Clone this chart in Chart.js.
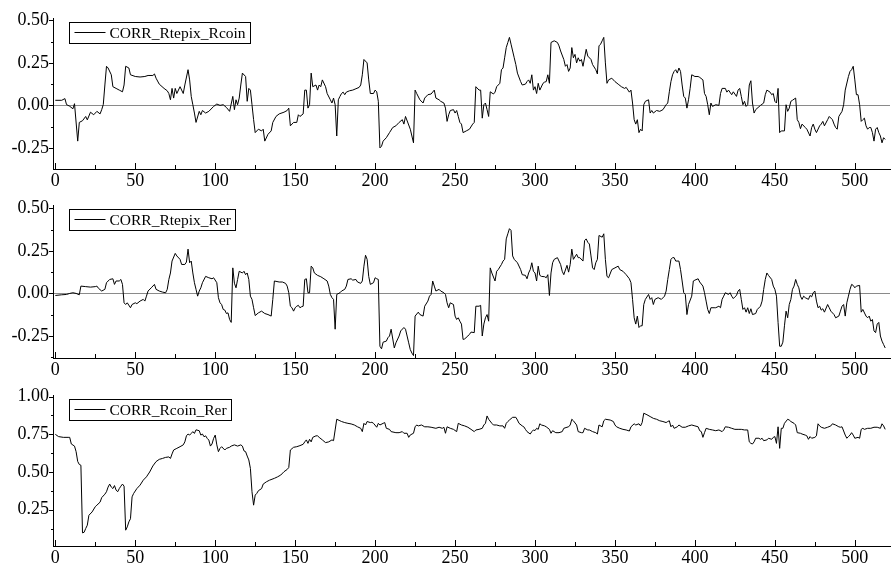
<!DOCTYPE html>
<html lang="en">
<head>
  <meta charset="UTF-8" />
  <title>Rolling correlations</title>
  <script src="https://cdn.jsdelivr.net/npm/chart.js"></script>
  <style>
    body { margin: 0; background: #fff; }
    .wrap { position: relative; width: 891px; height: 564px; overflow: hidden; }
    canvas { position: absolute; left: 0; }
  </style>
</head>
<body>
  <div class="wrap">
    <canvas id="c1" width="891" height="200" style="top:0"></canvas>
    <canvas id="c2" width="891" height="200" style="top:188px"></canvas>
    <canvas id="c3" width="891" height="188" style="top:376px"></canvas>
  </div>

  <script>
    const corrRtepixRcoin = [[0,0.03],[4,0.03],[6,0.04],[7,0.005],[9,-0.005],[11,-0.02],[12,0.01],[14,-0.21],[15,-0.10],[17,-0.09],[19,-0.065],[20,-0.085],[22,-0.04],[24,-0.055],[26,-0.035],[28,-0.05],[29,-0.025],[30,0.005],[31,0.12],[32,0.23],[33,0.22],[35,0.18],[36,0.11],[38,0.10],[40,0.09],[42,0.08],[43,0.12],[44,0.23],[46,0.22],[47,0.18],[50,0.17],[53,0.167],[56,0.17],[58,0.176],[61,0.176],[62,0.185],[63,0.16],[65,0.125],[68,0.10],[70,0.086],[71,0.07],[72,0.033],[73,0.10],[74,0.043],[75,0.10],[76,0.07],[78,0.11],[80,0.07],[81,0.12],[83,0.21],[84,0.15],[85,0.053],[86,0.004],[87,-0.045],[88,-0.10],[90,-0.035],[91,-0.055],[92,-0.03],[94,-0.045],[96,-0.035],[99,-0.006],[101,0.008],[103,0],[105,0.004],[107,-0.012],[109,-0.035],[111,0.053],[112,-0.025],[113,0.033],[114,0.004],[115,0.043],[116,0.12],[117,0.19],[119,0.17],[120,0.024],[121,0.10],[122,0.09],[123,0.004],[124,-0.084],[125,-0.16],[127,-0.14],[129,-0.15],[130,-0.14],[131,-0.21],[133,-0.17],[135,-0.15],[136,-0.10],[138,-0.065],[140,-0.05],[143,-0.04],[145,-0.03],[146,-0.016],[147,-0.12],[149,-0.10],[151,-0.10],[152,-0.055],[153,-0.065],[155,-0.05],[156,0.09],[157,0.09],[158,-0.016],[159,0.004],[160,0.19],[161,0.11],[163,0.12],[164,0.09],[165,0.12],[166,0.11],[167,0.15],[169,0.11],[170,0.07],[172,0.033],[173,0.014],[174,0.043],[175,0.004],[176,-0.18],[177,0.033],[178,0.053],[179,0.07],[180,0.078],[181,0.063],[182,0.078],[184,0.086],[186,0.09],[188,0.098],[190,0.106],[191,0.12],[192,0.18],[193,0.27],[195,0.25],[196,0.15],[197,0.07],[199,0.07],[200,0.09],[201,0.08],[202,0.024],[203,-0.25],[204,-0.24],[205,-0.21],[207,-0.19],[209,-0.16],[211,-0.13],[213,-0.12],[215,-0.10],[217,-0.084],[218,-0.11],[219,-0.065],[222,-0.14],[223,-0.18],[224,-0.22],[225,0.09],[226,0.07],[228,0.033],[230,0.014],[231,0.043],[233,0.063],[235,0.067],[237,0.09],[238,0.043],[240,0.033],[241,0.024],[243,0.014],[244,-0.016],[245,-0.094],[246,-0.055],[247,-0.03],[249,-0.025],[250,-0.045],[251,-0.03],[252,-0.065],[253,-0.10],[254,-0.11],[255,-0.16],[257,-0.15],[259,-0.14],[261,-0.11],[262,-0.10],[263,0.11],[265,0.09],[266,0.09],[267,-0.075],[268,0.004],[269,0.014],[270,-0.025],[271,-0.065],[272,0.08],[274,0.067],[275,0.078],[276,0.11],[278,0.13],[279,0.21],[280,0.22],[281,0.28],[282,0.34],[283,0.37],[284,0.40],[285,0.36],[287,0.28],[288,0.24],[289,0.19],[291,0.14],[292,0.12],[294,0.125],[295,0.14],[296,0.15],[297,0.13],[298,0.18],[299,0.09],[300,0.11],[301,0.07],[302,0.13],[303,0.09],[305,0.13],[306,0.137],[307,0.14],[308,0.18],[309,0.13],[310,0.37],[312,0.38],[314,0.37],[315,0.35],[316,0.32],[318,0.27],[319,0.23],[320,0.24],[321,0.20],[322,0.22],[323,0.34],[324,0.28],[325,0.30],[326,0.25],[327,0.28],[328,0.26],[329,0.27],[330,0.23],[332,0.33],[333,0.29],[335,0.27],[336,0.24],[338,0.21],[339,0.185],[340,0.35],[341,0.36],[342,0.38],[343,0.40],[344,0.25],[345,0.13],[346,0.15],[348,0.16],[350,0.14],[352,0.125],[354,0.11],[356,0.10],[357,0.106],[359,0.078],[360,0.09],[361,0.014],[362,-0.084],[363,-0.11],[364,-0.084],[365,-0.16],[366,-0.14],[367,-0.15],[368,0.004],[369,0.024],[371,0.033],[372,-0.045],[373,-0.03],[374,-0.045],[376,-0.03],[378,-0.035],[380,-0.025],[382,0.004],[383,0.014],[384,0.08],[385,0.14],[386,0.18],[387,0.20],[388,0.21],[389,0.19],[390,0.22],[391,0.20],[392,0.12],[393,0.053],[394,0.043],[395,-0.016],[396,0.033],[397,0.10],[398,0.18],[400,0.17],[402,0.17],[403,0.165],[405,0.15],[406,0.07],[407,0.053],[408,0.004],[409,-0.055],[410,0.014],[411,-0.006],[413,0.004],[415,0],[416,0.07],[417,0.10],[419,0.10],[420,0.078],[421,0.09],[423,0.063],[424,0.08],[426,0.053],[427,0.09],[428,0.10],[429,0.053],[430,0.004],[431,0.024],[432,-0.006],[433,0.004],[434,0.12],[435,0.145],[436,0.014],[437,-0.045],[438,-0.025],[441,0],[443,0.014],[444,0.063],[445,0.09],[447,0.078],[448,0.063],[449,0.07],[450,0.024],[451,0.014],[452,0.10],[453,-0.16],[454,-0.15],[456,-0.15],[457,0.004],[458,-0.035],[459,-0.016],[460,0.024],[461,0.03],[462,0.037],[463,0.043],[464,-0.084],[465,-0.10],[466,-0.137],[467,-0.11],[469,-0.13],[470,-0.14],[472,-0.18],[473,-0.13],[474,-0.11],[475,-0.14],[476,-0.16],[478,-0.12],[479,-0.11],[480,-0.094],[481,-0.12],[483,-0.084],[484,-0.065],[486,-0.084],[487,-0.11],[488,-0.13],[489,-0.14],[490,-0.065],[492,-0.035],[493,0.004],[494,0.09],[496,0.17],[497,0.20],[498,0.21],[499,0.23],[500,0.15],[501,0.063],[502,0.063],[503,0.004],[504,-0.094],[505,-0.084],[506,-0.075],[507,-0.12],[508,-0.14],[509,-0.13],[510,-0.13],[511,-0.16],[512,-0.21],[513,-0.14],[514,-0.13],[515,-0.16],[516,-0.18],[517,-0.22],[518,-0.19],[519,-0.20]];

    const corrRtepixRer = [[0,-0.012],[4,-0.008],[7,-0.006],[9,0],[11,0.004],[13,0],[15,-0.008],[16,0.043],[19,0.04],[22,0.037],[25,0.04],[26,0.043],[27,0.03],[29,0.014],[31,0.024],[32,0.063],[34,0.082],[36,0.086],[37,0.053],[38,0.073],[40,0.073],[41,0.082],[42,0.053],[43,-0.055],[44,-0.065],[45,-0.055],[47,-0.084],[48,-0.065],[50,-0.055],[51,-0.06],[53,-0.045],[55,-0.035],[56,-0.045],[57,-0.016],[58,0.014],[60,0.033],[62,0.053],[63,0.024],[65,0.014],[67,0.008],[69,0.004],[70,0.024],[71,0.082],[72,0.12],[73,0.19],[75,0.235],[76,0.22],[78,0.20],[79,0.17],[81,0.17],[82,0.184],[83,0.26],[84,0.18],[85,0.19],[86,0.12],[87,0.063],[88,0.024],[89,-0.016],[90,0.014],[91,0.033],[92,0.063],[94,0.10],[96,0.092],[98,0.086],[99,0.092],[101,0.063],[102,-0.025],[103,-0.055],[104,-0.065],[105,-0.094],[106,-0.098],[107,-0.118],[108,-0.114],[109,-0.153],[110,-0.17],[111,0.15],[112,0.06],[113,0.033],[114,0.082],[115,0.13],[117,0.12],[118,0.13],[119,0.11],[120,0.12],[121,0.082],[122,-0.016],[123,-0.035],[124,-0.084],[125,-0.13],[127,-0.114],[129,-0.104],[131,-0.118],[133,-0.124],[135,-0.133],[136,-0.035],[137,0.073],[140,0.067],[142,0.067],[144,0.059],[145,0.043],[146,0.004],[147,-0.075],[148,-0.084],[149,-0.104],[150,-0.084],[151,-0.075],[152,-0.07],[153,-0.084],[154,-0.078],[155,-0.075],[156,0.082],[157,0.086],[158,0.004],[159,0.004],[160,0.16],[161,0.15],[162,0.12],[164,0.106],[166,0.098],[168,0.086],[170,0.073],[171,0.043],[172,-0.006],[173,-0.025],[174,-0.035],[175,-0.21],[176,-0.006],[178,0.004],[179,0.014],[181,0.024],[182,0.043],[183,0.082],[185,0.086],[186,0.078],[188,0.082],[189,0.067],[191,0.059],[192,0.073],[193,0.16],[194,0.224],[195,0.20],[196,0.10],[197,0.053],[199,0.063],[200,0.092],[201,0.086],[202,0.082],[203,-0.31],[204,-0.325],[205,-0.286],[207,-0.28],[208,-0.26],[209,-0.25],[210,-0.21],[212,-0.32],[213,-0.29],[215,-0.25],[216,-0.22],[218,-0.20],[219,-0.21],[220,-0.25],[221,-0.29],[222,-0.33],[223,-0.35],[224,-0.365],[225,-0.133],[227,-0.11],[228,-0.124],[230,-0.133],[231,-0.075],[233,-0.045],[234,-0.016],[235,-0.006],[236,0.073],[237,0.043],[238,0.014],[240,0.024],[241,0.014],[243,0.004],[244,-0.006],[245,-0.055],[246,-0.084],[247,-0.055],[249,-0.065],[250,-0.133],[251,-0.153],[252,-0.143],[253,-0.163],[254,-0.18],[255,-0.27],[256,-0.267],[258,-0.25],[259,-0.24],[260,-0.227],[262,-0.23],[263,-0.075],[265,-0.075],[266,-0.07],[267,-0.25],[268,-0.18],[269,-0.143],[270,-0.124],[271,-0.163],[272,0.15],[273,0.12],[275,0.073],[276,0.13],[277,0.14],[279,0.17],[280,0.19],[281,0.20],[282,0.32],[283,0.35],[284,0.38],[285,0.37],[286,0.22],[287,0.20],[289,0.18],[291,0.14],[292,0.11],[294,0.106],[295,0.086],[296,0.12],[297,0.14],[298,0.18],[299,0.13],[300,0.12],[301,0.073],[302,0.16],[303,0.106],[304,0.10],[306,0.098],[307,0.092],[308,0.11],[309,-0.012],[310,0.12],[311,0.18],[312,0.20],[314,0.21],[316,0.17],[317,0.13],[318,0.11],[320,0.165],[321,0.125],[322,0.17],[323,0.26],[324,0.20],[326,0.23],[327,0.21],[328,0.21],[330,0.19],[331,0.31],[332,0.32],[333,0.30],[334,0.29],[335,0.22],[336,0.15],[337,0.14],[338,0.18],[339,0.20],[340,0.34],[342,0.33],[343,0.35],[344,0.20],[345,0.10],[346,0.092],[348,0.14],[350,0.15],[352,0.16],[353,0.14],[355,0.13],[357,0.11],[359,0.086],[360,0.063],[361,-0.035],[362,-0.143],[363,-0.18],[364,-0.133],[365,-0.20],[366,-0.19],[367,-0.19],[368,-0.065],[369,-0.035],[371,-0.006],[372,-0.035],[373,-0.025],[374,-0.065],[375,-0.035],[377,-0.025],[379,-0.035],[381,-0.016],[382,0.014],[383,0.082],[384,0.14],[385,0.20],[386,0.21],[387,0.21],[388,0.19],[390,0.19],[391,0.14],[392,0.073],[393,0.004],[394,-0.006],[395,-0.124],[396,-0.065],[398,-0.016],[399,0.073],[400,0.078],[402,0.086],[403,0.067],[405,0.043],[406,0.004],[407,-0.045],[408,-0.094],[409,-0.118],[410,-0.084],[412,-0.084],[413,-0.084],[415,-0.075],[416,-0.084],[417,-0.035],[418,-0.016],[419,0.004],[421,-0.006],[422,0.004],[423,-0.016],[424,-0.03],[425,-0.02],[426,-0.012],[427,0.014],[428,0.024],[429,-0.035],[430,-0.094],[431,-0.084],[432,-0.11],[433,-0.084],[434,-0.118],[435,-0.09],[436,-0.124],[438,-0.118],[439,-0.094],[441,-0.075],[442,-0.045],[443,0.024],[444,0.082],[445,0.12],[446,0.106],[448,0.082],[449,0.043],[450,0.024],[451,-0.016],[452,-0.17],[453,-0.31],[454,-0.31],[455,-0.286],[456,-0.19],[457,-0.104],[458,-0.143],[459,-0.065],[460,-0.035],[461,0.024],[462,0.043],[463,0.082],[464,0.053],[465,0.033],[466,-0.016],[467,-0.035],[468,-0.016],[469,-0.025],[471,-0.035],[472,-0.012],[473,-0.02],[474,0.004],[475,0.014],[476,-0.045],[477,-0.084],[478,-0.075],[479,-0.098],[480,-0.09],[481,-0.11],[483,-0.065],[484,-0.084],[485,-0.104],[487,-0.124],[488,-0.143],[490,-0.133],[491,-0.104],[492,-0.075],[493,-0.065],[494,-0.133],[495,-0.055],[496,-0.016],[497,0.024],[498,0.053],[499,0.047],[500,0.033],[501,0.043],[503,0.047],[504,-0.11],[505,-0.094],[507,-0.133],[508,-0.143],[509,-0.133],[510,-0.163],[511,-0.153],[512,-0.22],[513,-0.23],[514,-0.18],[515,-0.17],[516,-0.25],[517,-0.28],[518,-0.30],[519,-0.32]];

    const corrRcoinRer = [[0,0.75],[2,0.735],[5,0.73],[8,0.73],[9,0.73],[10,0.686],[12,0.672],[13,0.635],[14,0.57],[15,0.55],[16,0.545],[17,0.096],[18,0.10],[19,0.125],[20,0.147],[21,0.213],[23,0.235],[25,0.27],[26,0.28],[28,0.30],[29,0.33],[31,0.353],[32,0.369],[33,0.40],[34,0.42],[35,0.40],[36,0.39],[37,0.41],[38,0.38],[39,0.369],[40,0.39],[41,0.406],[42,0.42],[43,0.406],[44,0.114],[45,0.136],[46,0.169],[47,0.19],[48,0.335],[49,0.358],[51,0.39],[53,0.413],[55,0.446],[57,0.468],[59,0.50],[61,0.54],[63,0.569],[65,0.584],[67,0.59],[69,0.597],[71,0.60],[72,0.59],[73,0.62],[74,0.646],[76,0.657],[78,0.668],[80,0.68],[81,0.70],[82,0.74],[83,0.752],[84,0.745],[85,0.756],[86,0.768],[87,0.756],[88,0.78],[90,0.774],[91,0.745],[92,0.752],[93,0.734],[94,0.74],[95,0.723],[96,0.712],[97,0.672],[98,0.686],[99,0.723],[100,0.745],[101,0.68],[102,0.635],[103,0.657],[104,0.668],[106,0.646],[107,0.657],[109,0.664],[110,0.672],[112,0.68],[114,0.672],[116,0.68],[117,0.672],[118,0.64],[119,0.635],[120,0.606],[121,0.58],[122,0.524],[123,0.369],[124,0.28],[125,0.347],[126,0.358],[127,0.376],[129,0.39],[130,0.42],[132,0.435],[134,0.446],[137,0.458],[139,0.468],[141,0.48],[143,0.502],[145,0.517],[146,0.53],[147,0.646],[149,0.664],[151,0.668],[153,0.675],[155,0.684],[156,0.70],[157,0.713],[158,0.69],[159,0.717],[160,0.70],[161,0.73],[163,0.74],[164,0.74],[165,0.73],[167,0.713],[169,0.695],[171,0.70],[173,0.713],[174,0.708],[175,0.779],[176,0.85],[178,0.84],[179,0.835],[181,0.828],[183,0.823],[185,0.819],[187,0.812],[189,0.80],[191,0.79],[192,0.768],[193,0.823],[194,0.812],[195,0.835],[197,0.828],[198,0.83],[199,0.823],[201,0.797],[202,0.823],[203,0.812],[205,0.823],[206,0.828],[207,0.79],[209,0.783],[210,0.768],[213,0.761],[215,0.761],[217,0.768],[218,0.757],[220,0.757],[221,0.73],[222,0.746],[224,0.757],[225,0.80],[226,0.812],[227,0.806],[229,0.812],[231,0.80],[233,0.80],[235,0.797],[238,0.79],[240,0.797],[242,0.79],[243,0.797],[244,0.757],[245,0.80],[247,0.79],[249,0.783],[251,0.768],[252,0.823],[254,0.812],[256,0.806],[258,0.797],[260,0.783],[262,0.768],[263,0.779],[265,0.783],[267,0.79],[268,0.812],[269,0.823],[270,0.872],[271,0.85],[273,0.823],[274,0.812],[276,0.812],[278,0.806],[280,0.806],[281,0.79],[282,0.823],[283,0.835],[284,0.845],[286,0.863],[288,0.863],[289,0.845],[290,0.823],[292,0.806],[293,0.80],[294,0.783],[295,0.768],[297,0.752],[298,0.768],[299,0.779],[300,0.775],[301,0.79],[302,0.783],[303,0.82],[304,0.812],[306,0.806],[307,0.80],[309,0.783],[310,0.757],[311,0.774],[313,0.761],[315,0.761],[317,0.768],[318,0.79],[320,0.797],[321,0.80],[322,0.812],[323,0.85],[324,0.84],[326,0.812],[327,0.768],[329,0.761],[330,0.761],[331,0.79],[333,0.779],[334,0.779],[336,0.768],[338,0.761],[339,0.752],[340,0.812],[342,0.80],[343,0.84],[344,0.85],[347,0.845],[349,0.835],[350,0.812],[351,0.80],[353,0.79],[355,0.783],[357,0.779],[359,0.772],[360,0.80],[362,0.82],[363,0.812],[365,0.82],[366,0.806],[367,0.828],[368,0.89],[370,0.88],[372,0.868],[374,0.856],[376,0.85],[378,0.84],[380,0.835],[382,0.828],[383,0.835],[384,0.84],[385,0.80],[386,0.812],[387,0.79],[389,0.80],[390,0.812],[392,0.797],[394,0.797],[396,0.806],[398,0.812],[400,0.806],[402,0.80],[403,0.774],[404,0.768],[405,0.73],[406,0.761],[407,0.79],[409,0.783],[411,0.779],[413,0.774],[415,0.779],[417,0.768],[418,0.779],[419,0.80],[421,0.797],[423,0.79],[425,0.783],[427,0.783],[429,0.783],[431,0.779],[433,0.779],[434,0.70],[435,0.69],[436,0.686],[437,0.70],[438,0.724],[440,0.724],[441,0.717],[442,0.724],[443,0.708],[445,0.713],[446,0.724],[448,0.717],[449,0.73],[450,0.735],[451,0.69],[452,0.80],[453,0.657],[454,0.79],[455,0.79],[456,0.823],[458,0.85],[459,0.845],[460,0.835],[462,0.823],[463,0.812],[464,0.761],[466,0.757],[467,0.752],[469,0.745],[470,0.74],[471,0.717],[472,0.735],[473,0.724],[475,0.73],[476,0.74],[477,0.82],[478,0.806],[479,0.797],[481,0.79],[483,0.797],[485,0.806],[486,0.82],[488,0.812],[490,0.80],[491,0.797],[492,0.80],[494,0.745],[495,0.724],[496,0.735],[497,0.745],[498,0.761],[499,0.745],[500,0.724],[502,0.73],[503,0.724],[504,0.783],[505,0.79],[506,0.783],[508,0.79],[510,0.79],[512,0.797],[514,0.797],[516,0.79],[517,0.82],[518,0.806],[519,0.783]];

    const xTicks = [0, 50, 100, 150, 200, 250, 300, 350, 400, 450, 500];
    const xMinorTicks = [25, 75, 125, 175, 225, 275, 325, 375, 425, 475];
    const yTicksTop = [-0.25, 0, 0.25, 0.5];
    const yTicksBottom = [0.25, 0.5, 0.75, 1.0];

    const serif = '"Liberation Serif", "Times New Roman", serif';

    // inward ticks on x, outward ticks on y, like the original graph
    const tickMarks = {
      id: 'tickMarks',
      afterDraw(chart) {
        const { ctx, chartArea, scales: { x, y } } = chart;
        ctx.save();
        ctx.strokeStyle = '#000';
        ctx.lineWidth = 1;
        ctx.beginPath();
        xTicks.concat(xMinorTicks).forEach(v => {
          const px = Math.round(x.getPixelForValue(v)) + 0.5;
          const len = xTicks.includes(v) ? 6 : 4;
          ctx.moveTo(px, chartArea.bottom);
          ctx.lineTo(px, chartArea.bottom - len);
        });
        const yt = y.ticks.map(t => t.value);
        const step = yt[1] - yt[0];
        const minor = [];
        yt.forEach(v => { minor.push(v - step / 2); });
        minor.push(yt[yt.length - 1] + step / 2);
        yt.forEach(v => {
          const py = Math.round(y.getPixelForValue(v)) + 0.5;
          ctx.moveTo(chartArea.left, py);
          ctx.lineTo(chartArea.left - 4, py);
        });
        minor.filter(v => v >= y.min && v <= y.max).forEach(v => {
          const py = Math.round(y.getPixelForValue(v)) + 0.5;
          ctx.moveTo(chartArea.left, py);
          ctx.lineTo(chartArea.left - 2, py);
        });
        ctx.stroke();
        ctx.restore();
      }
    };

    // boxed legend sitting inside the plot, top left
    const boxLegend = {
      id: 'boxLegend',
      afterDraw(chart) {
        const { ctx, chartArea } = chart;
        const label = chart.data.datasets[0].label;
        ctx.save();
        ctx.font = '15.5px ' + serif;
        const tw = ctx.measureText(label).width;
        const bx = Math.round(chartArea.left + 16) + 0.5;
        const by = Math.round(chartArea.top + 4) + 0.5;
        const bw = Math.round(tw + 45);
        const bh = 21;
        ctx.fillStyle = '#fff';
        ctx.fillRect(bx, by, bw, bh);
        ctx.strokeStyle = '#000';
        ctx.lineWidth = 1;
        ctx.strokeRect(bx, by, bw, bh);
        ctx.beginPath();
        ctx.moveTo(bx + 5, by + 10);
        ctx.lineTo(bx + 36, by + 10);
        ctx.stroke();
        ctx.fillStyle = '#000';
        ctx.textBaseline = 'middle';
        ctx.fillText(label, bx + 40, by + 11);
        ctx.restore();
      }
    };

    function makePanel(id, label, pairs, yMin, yMax, yTicks, padTop, xHeight) {
      return new Chart(document.getElementById(id), {
        type: 'line',
        data: {
          datasets: [{
            label: label,
            data: pairs.map(p => ({ x: p[0], y: p[1] })),
            borderColor: '#000',
            borderWidth: 1,
            pointRadius: 0,
            tension: 0,
            fill: false
          }]
        },
        options: {
          responsive: false,
          animation: false,
          devicePixelRatio: 1,
          layout: { padding: { top: padTop, right: 1, left: 0, bottom: 0 } },
          plugins: { legend: { display: false }, tooltip: { enabled: false } },
          scales: {
            x: {
              type: 'linear',
              min: -1.45,
              max: 522,
              afterBuildTicks: s => { s.ticks = xTicks.map(v => ({ value: v })); },
              afterFit: s => { s.height = xHeight; },
              grid: { display: true, drawOnChartArea: false, drawTicks: false },
              border: { display: true, color: '#000', width: 1 },
              ticks: { color: '#000', padding: 1, maxRotation: 0, font: { family: serif, size: 18 } }
            },
            y: {
              min: yMin,
              max: yMax,
              afterBuildTicks: s => { s.ticks = yTicks.map(v => ({ value: v })); },
              afterFit: s => { s.width = 53; },
              grid: {
                drawTicks: false,
                color: c => (c.tick && c.tick.value === 0 ? '#8a8a8a' : 'rgba(0,0,0,0)')
              },
              border: { display: true, color: '#000', width: 1 },
              ticks: {
                color: '#000',
                padding: 4,
                font: { family: serif, size: 18 },
                callback: v => Number(v).toFixed(2)
              }
            }
          }
        },
        plugins: [tickMarks, boxLegend]
      });
    }

    makePanel('c1', 'CORR_Rtepix_Rcoin', corrRtepixRcoin, -0.374, 0.514, yTicksTop, 18, 31);
    makePanel('c2', 'CORR_Rtepix_Rer', corrRtepixRer, -0.379, 0.519, yTicksTop, 17, 30);
    makePanel('c3', 'CORR_Rcoin_Rer', corrRcoinRer, 0.009, 1.011, yTicksBottom, 19, 18);
  </script>
</body>
</html>
